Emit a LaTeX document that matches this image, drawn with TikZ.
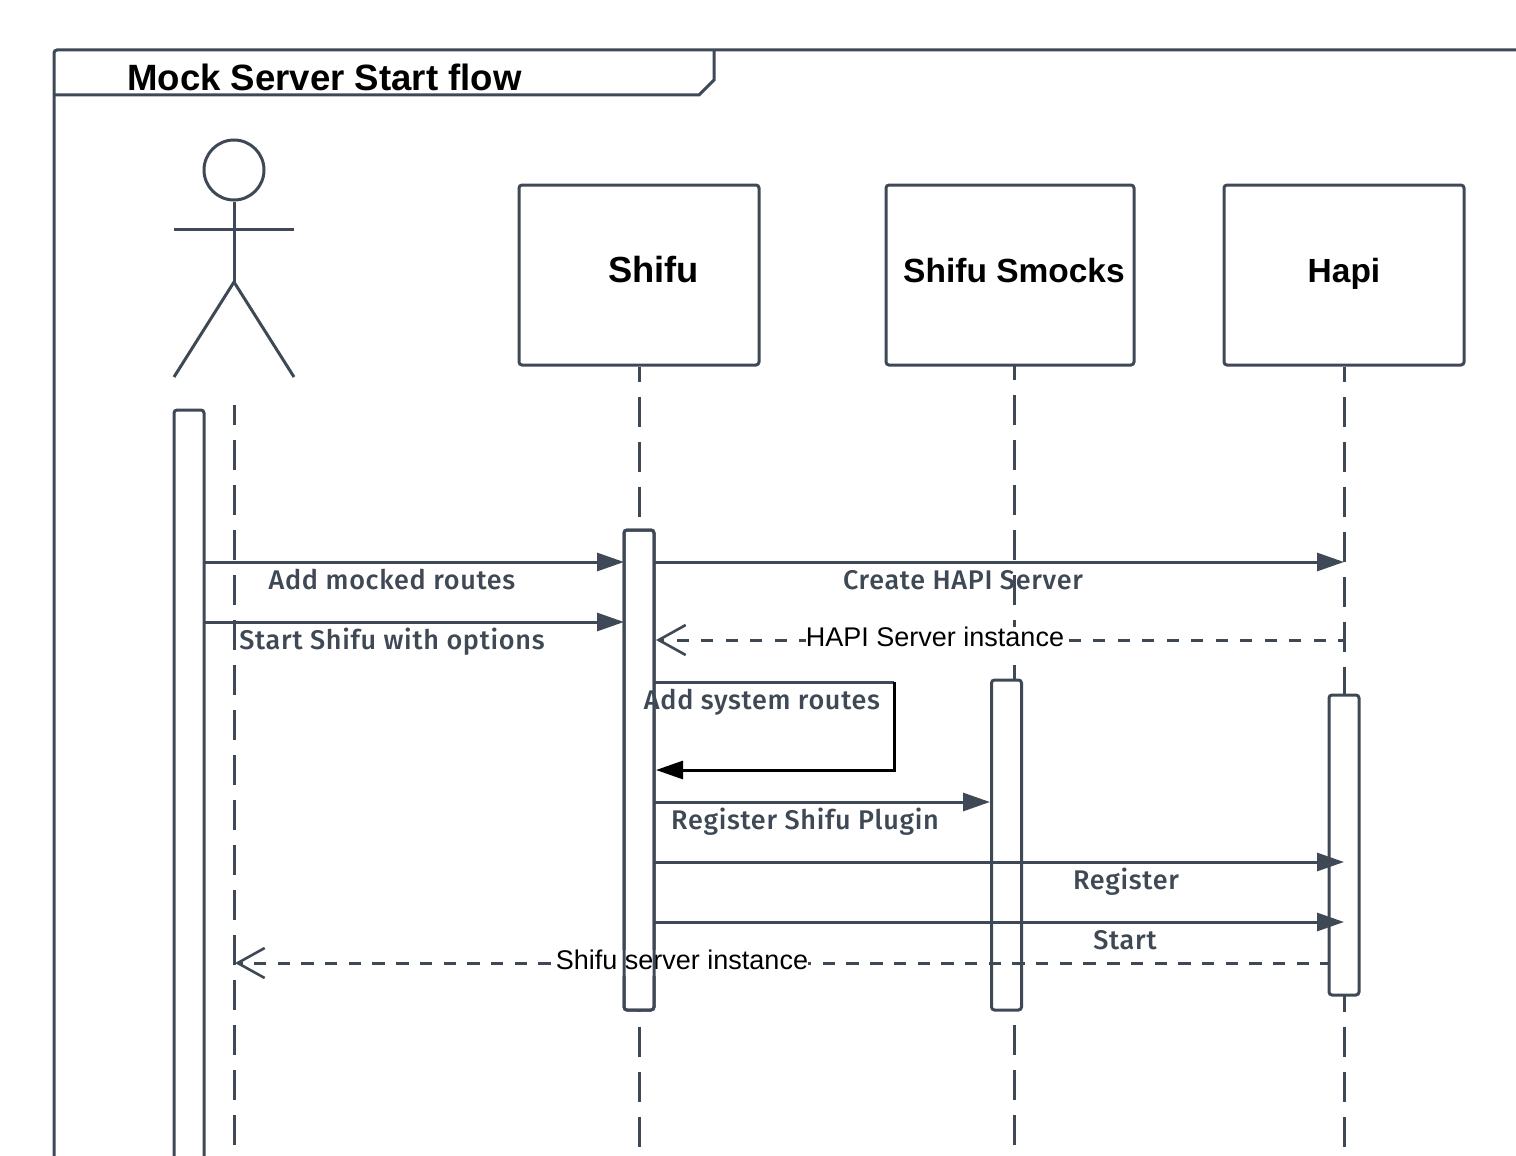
\documentclass[tikz,border=0pt]{standalone}
\usepackage{fontspec}
\setmainfont{Liberation Sans}
\newfontfamily\labelfont[LetterSpace=2.6]{Fira Sans Medium}
\usetikzlibrary{arrows.meta}
\definecolor{linegray}{HTML}{3F4955}
\tikzset{
    umlline/.style={draw=linegray, line width=3pt},
    objbox/.style={umlline, fill=white, rounded corners=3pt, minimum width=240pt, minimum height=180pt, inner sep=0pt},
    actbox/.style={umlline, fill=white, rounded corners=3pt, minimum width=30pt, inner sep=0pt},
    objtext/.style={font=\fontsize{33.5}{40}\selectfont\bfseries, text=black, inner sep=0pt, anchor=base},
    lifeline/.style={umlline, dash pattern=on 30pt off 15pt, dash phase=#1},
    call/.style={umlline, -{Triangle[length=27pt, width=18pt]}},
    selfcall/.style={draw=black, line width=3pt, -{Triangle[length=27pt, width=18pt]}},
    reply/.style 2 args={umlline, dash pattern=on 12.4pt off #1pt, dash phase=#2pt, -{Straight Barb[length=27pt, width=30pt, line width=2.6pt]}},
    msg/.style={font=\labelfont\fontsize{27}{30}\selectfont, text=linegray, inner sep=0pt, anchor=base},
    rmsg/.style={font=\fontsize{27}{30}\selectfont, text=black, fill=white, inner sep=0pt, outer sep=0pt, text depth=6pt}
}
\begin{document}
\begin{tikzpicture}[x=1pt, y=-1pt]
    \useasboundingbox (0,0) rectangle (1516,1156);
    % frame
    \draw[umlline, rounded corners=3pt] (54,1160) -- (54,50) -- (1520,50);
    \draw[umlline] (54,95) -- (699,95) -- (714,80) -- (714,50);
    \node[objtext, font=\fontsize{36.6}{40}\selectfont\bfseries, anchor=base west] (title) at (127,90) {Mock Server Start flow};
    % actor
    \node[umlline, circle, minimum size=60pt, inner sep=0pt] (head) at (234,170) {};
    \coordinate (hips) at (234,282);
    \coordinate (armL) at (174,229);
    \coordinate (armR) at (294,229);
    \coordinate (footL) at (174,377);
    \coordinate (footR) at (294,377);
    \draw[umlline] (head.south) -- (hips);
    \draw[umlline] (armL) -- (armR);
    \draw[umlline] (footL) -- (hips) -- (footR);
    % objects
    \node[objbox] (shifu) at (639,275) {};
    \node[objbox, minimum width=248pt] (smocks) at (1010,275) {};
    \node[objbox] (hapi) at (1344,275) {};
    \node[objtext, font=\fontsize{36.3}{40}\selectfont\bfseries] (shifuT) at (653.5,282) {Shifu};
    \node[objtext] (smocksT) at (1014,282) {Shifu Smocks};
    \node[objtext] (hapiT) at (1344,282) {Hapi};
    % lifelines
    \coordinate (actTop) at (234,405);
    \coordinate (actEnd) at (234,1160);
    \coordinate (shifuEnd) at (639,1160);
    \coordinate (smocksEnd) at (1014,1160);
    \coordinate (hapiEnd) at (1344,1160);
    \coordinate (smocksTop) at (1014,365);
    \draw[lifeline=10pt] (actTop) -- (actEnd);
    \draw[lifeline=15pt] (shifu.south) -- (shifuEnd);
    \draw[lifeline=15pt] (smocksTop) -- (smocksEnd);
    \draw[lifeline=15pt] (hapi.south) -- (hapiEnd);
    % activations
    \draw[umlline, fill=white, rounded corners=3pt] (174,1170) -- (174,410) -- (204,410) -- (204,1170);
    \node[actbox, minimum height=480pt] (shifuA) at (639,770) {};
    \node[actbox, minimum height=330pt] (smocksA) at (1006.5,845) {};
    \node[actbox, minimum height=300pt] (hapiA) at (1344,845) {};
    % messages
    \coordinate (m1a) at (204,562);
    \coordinate (m1b) at (624,562);
    \coordinate (m2a) at (204,622);
    \coordinate (m2b) at (624,622);
    \coordinate (m3a) at (654,562);
    \coordinate (m3b) at (1344,562);
    \coordinate (m4a) at (1344,640);
    \coordinate (m4b) at (656,640);
    \coordinate (m5a) at (654,682);
    \coordinate (m5c) at (894,682);
    \coordinate (m5d) at (894,770);
    \coordinate (m5b) at (656,770);
    \coordinate (m6a) at (654,802);
    \coordinate (m6b) at (990,802);
    \coordinate (m7a) at (654,862);
    \coordinate (m7b) at (1344,862);
    \coordinate (m8a) at (654,922);
    \coordinate (m8b) at (1344,922);
    \coordinate (m9a) at (1329,963);
    \coordinate (m9b) at (235,963);
    \draw[call] (m1a) -- (m1b);
    \draw[call] (m2a) -- (m2b);
    \draw[call] (m3a) -- (m3b);
    \draw[reply={12.1}{6.4}] (m4a) -- (m4b);
    \draw[umlline] (m5a) -- (m5c);
    \draw[selfcall] (m5c) -- (m5d) -- (m5b);
    \draw[call] (m6a) -- (m6b);
    \draw[call] (m7a) -- (m7b);
    \draw[call] (m8a) -- (m8b);
    \draw[reply={11.3}{3.8}] (m9a) -- (m9b);
    % labels
    \node[msg] (l1) at (392,589) {Add mocked routes};
    \node[msg] (l2) at (392,649) {Start Shifu with options};
    \node[msg] (l3) at (963,589) {Create HAPI Server};
    \node[rmsg] (l4) at (935,640) {HAPI Server instance};
    \node[msg] (l5) at (762,709) {Add system routes};
    \node[msg] (l6) at (805,829) {Register Shifu Plugin};
    \node[msg] (l7) at (1126,889) {Register};
    \node[msg] (l8) at (1125,949) {Start};
    \node[rmsg] (l9) at (682,963) {Shifu server instance};
    % box edge shows through the last label
    \node[actbox, fill=none, minimum height=480pt] (shifuB) at (639,770) {};
\end{tikzpicture}
\end{document}
